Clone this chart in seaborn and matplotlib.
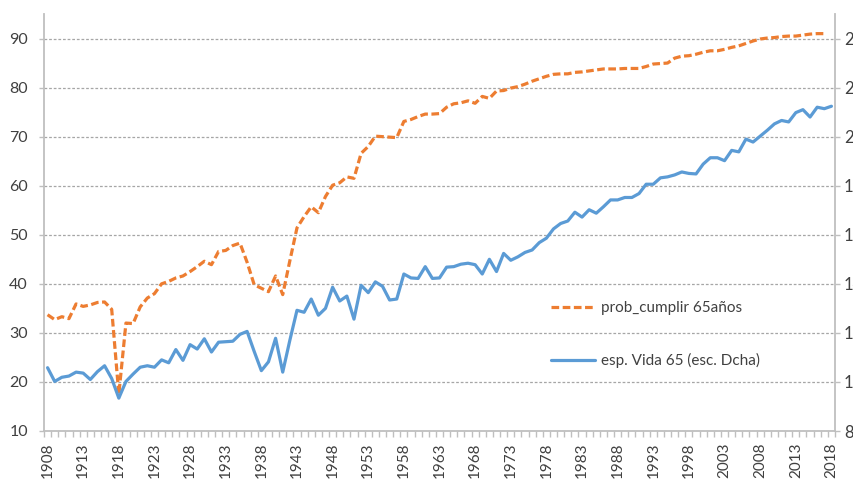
import numpy as np
import pandas as pd
import matplotlib
matplotlib.use("Agg")
import matplotlib.pyplot as plt
from matplotlib.lines import Line2D
from matplotlib.transforms import Bbox
import seaborn as sns

# ---------------- data ----------------
years = list(range(1908, 2019))

prob_cumplir_65 = [
    33.7, 32.7, 33.3, 32.9, 35.9, 35.4, 35.7, 36.2, 36.3, 34.8,
    17.5, 32.0, 31.9, 35.3, 37.1, 38.0, 40.0, 40.5, 41.2, 41.6,
    42.5, 43.5, 44.6, 43.9, 46.6, 46.8, 47.8, 48.3, 44.4, 39.8,
    39.1, 38.4, 41.6, 37.8, 44.7, 51.4, 53.7, 55.7, 54.5, 57.8,
    60.1, 60.6, 61.8, 61.5, 66.6, 68.0, 70.1, 70.0, 69.9, 69.8,
    73.1, 73.5, 74.1, 74.6, 74.6, 74.7, 76.0, 76.7, 76.9, 77.3,
    76.8, 78.2, 77.8, 79.3, 79.4, 79.9, 80.2, 80.7, 81.3, 81.8,
    82.3, 82.7, 82.8, 82.8, 83.1, 83.2, 83.4, 83.6, 83.8, 83.8,
    83.8, 83.9, 83.9, 83.9, 84.3, 84.8, 84.9, 85.0, 86.0, 86.4,
    86.5, 86.8, 87.2, 87.5, 87.5, 87.8, 88.2, 88.5, 89.0, 89.5,
    89.9, 90.1, 90.2, 90.4, 90.5, 90.5, 90.7, 90.9, 91.0, 91.0,
]

esp_vida_65 = [
    10.58, 10.02, 10.19, 10.24, 10.40, 10.36, 10.10, 10.42, 10.66, 10.14,
    9.34, 10.02, 10.32, 10.60, 10.66, 10.60, 10.90, 10.78, 11.32, 10.88,
    11.52, 11.34, 11.76, 11.22, 11.62, 11.64, 11.66, 11.94, 12.06, 11.24,
    10.46, 10.82, 11.78, 10.40, 11.70, 12.92, 12.84, 13.38, 12.72, 13.00,
    13.86, 13.30, 13.50, 12.56, 13.94, 13.64, 14.08, 13.90, 13.34, 13.38,
    14.40, 14.24, 14.22, 14.70, 14.22, 14.24, 14.68, 14.70, 14.80, 14.84,
    14.78, 14.40, 15.00, 14.50, 15.24, 14.96, 15.10, 15.28, 15.38, 15.68,
    15.86, 16.24, 16.46, 16.56, 16.92, 16.72, 17.02, 16.88, 17.14, 17.42,
    17.42, 17.52, 17.52, 17.68, 18.06, 18.06, 18.32, 18.36, 18.44, 18.56,
    18.50, 18.48, 18.88, 19.14, 19.14, 19.02, 19.44, 19.38, 19.90, 19.78,
    20.02, 20.26, 20.52, 20.66, 20.60, 20.98, 21.10, 20.80, 21.20, 21.14,
    21.24,
]

label_years = list(range(1908, 2019, 5))
left_ticks = [10, 20, 30, 40, 50, 60, 70, 80, 90]
right_ticks = [8, 10, 12, 14, 16, 18, 20, 22, 24]

series_labels = ["prob_cumplir 65años", "esp. Vida 65 (esc. Dcha)"]

# ---------------- style ----------------
ORANGE = "#ED7D31"
BLUE = "#5B9BD5"
GRID = "#A6A6A6"
SPINE = "#BFBFBF"
TXT = "#404040"

sns.set_theme(style="white")
plt.rcParams["font.family"] = ["Lato", "DejaVu Sans"]

df_prob = pd.DataFrame({"year": years[:len(prob_cumplir_65)], "prob": prob_cumplir_65})
df_esp = pd.DataFrame({"year": years, "esp": esp_vida_65})

W, H = 861, 479
fig = plt.figure(figsize=(W / 100, H / 100), dpi=100)
ax = fig.add_axes([44 / W, 1 - 431 / H, (835 - 44) / W, (431 - 14) / H])
ax2 = ax.twinx()

dash_style = (0, (2.4, 1.1))
sns.lineplot(data=df_prob, x="year", y="prob", ax=ax, color=ORANGE,
             linewidth=2.3, linestyle=dash_style, legend=False, estimator=None)
sns.lineplot(data=df_esp, x="year", y="esp", ax=ax2, color=BLUE,
             linewidth=2.3, legend=False, estimator=None)

ax.set_xlim(1907.5, 2018.5)
ax.set_ylim(10, 95)
ax2.set_ylim(8, 25)
ax.set_xlabel("")
ax.set_ylabel("")
ax2.set_ylabel("")

# grid
ax.yaxis.grid(True, color=GRID, linestyle=(0, (2.2, 1.5)), linewidth=0.9)
ax.xaxis.grid(False)
ax2.grid(False)
ax.set_axisbelow(True)

# spines
for sp in ["top", "right"]:
    ax.spines[sp].set_visible(False)
for sp in ["top", "left", "bottom"]:
    ax2.spines[sp].set_visible(False)
for a, sp in [(ax, "left"), (ax, "bottom"), (ax2, "right")]:
    a.spines[sp].set_color(SPINE)
    a.spines[sp].set_linewidth(1.3)

# ticks
ax.set_yticks(left_ticks)
ax.set_yticklabels([str(v) for v in left_ticks])
ax.tick_params(axis="y", which="major", length=3.6, width=1, color=SPINE,
               direction="out", pad=8, labelsize=11.5, labelcolor=TXT, left=True)
ax2.set_yticks(right_ticks)
ax2.set_yticklabels([str(v) for v in right_ticks])
ax2.tick_params(axis="y", which="major", length=3.6, width=1, color=SPINE,
                direction="out", pad=2.8, labelsize=12, labelcolor=TXT, right=True)
# the reference image is cropped just after the first digit of the right-axis labels
clip = Bbox([[0, 0], [853, H]])
for t in ax2.yaxis.get_major_ticks():
    t.label2.set_clip_on(True)
    t.label2.set_clip_box(clip)

ax.set_xticks(label_years)
ax.set_xticklabels([str(y) for y in label_years], rotation=90)
ax.set_xticks(np.arange(1907.5, 2019, 1.0), minor=True)
ax.tick_params(axis="x", which="major", length=0, pad=8, labelsize=11, labelcolor=TXT, bottom=True)
ax.tick_params(axis="x", which="minor", length=4, width=1, color=SPINE, direction="out", bottom=True)

# legend
handles = [
    Line2D([0], [0], color=ORANGE, linewidth=2.3, linestyle=dash_style),
    Line2D([0], [0], color=BLUE, linewidth=2.3),
]
fig.legend(handles, series_labels, loc="upper left",
           bbox_to_anchor=(545 / W, 1 - 295 / H), frameon=False,
           fontsize=11, labelcolor=TXT, handlelength=2.9, handletextpad=0.35,
           labelspacing=2.5, borderaxespad=0, borderpad=0.4)

fig.savefig("out.png", dpi=100)
